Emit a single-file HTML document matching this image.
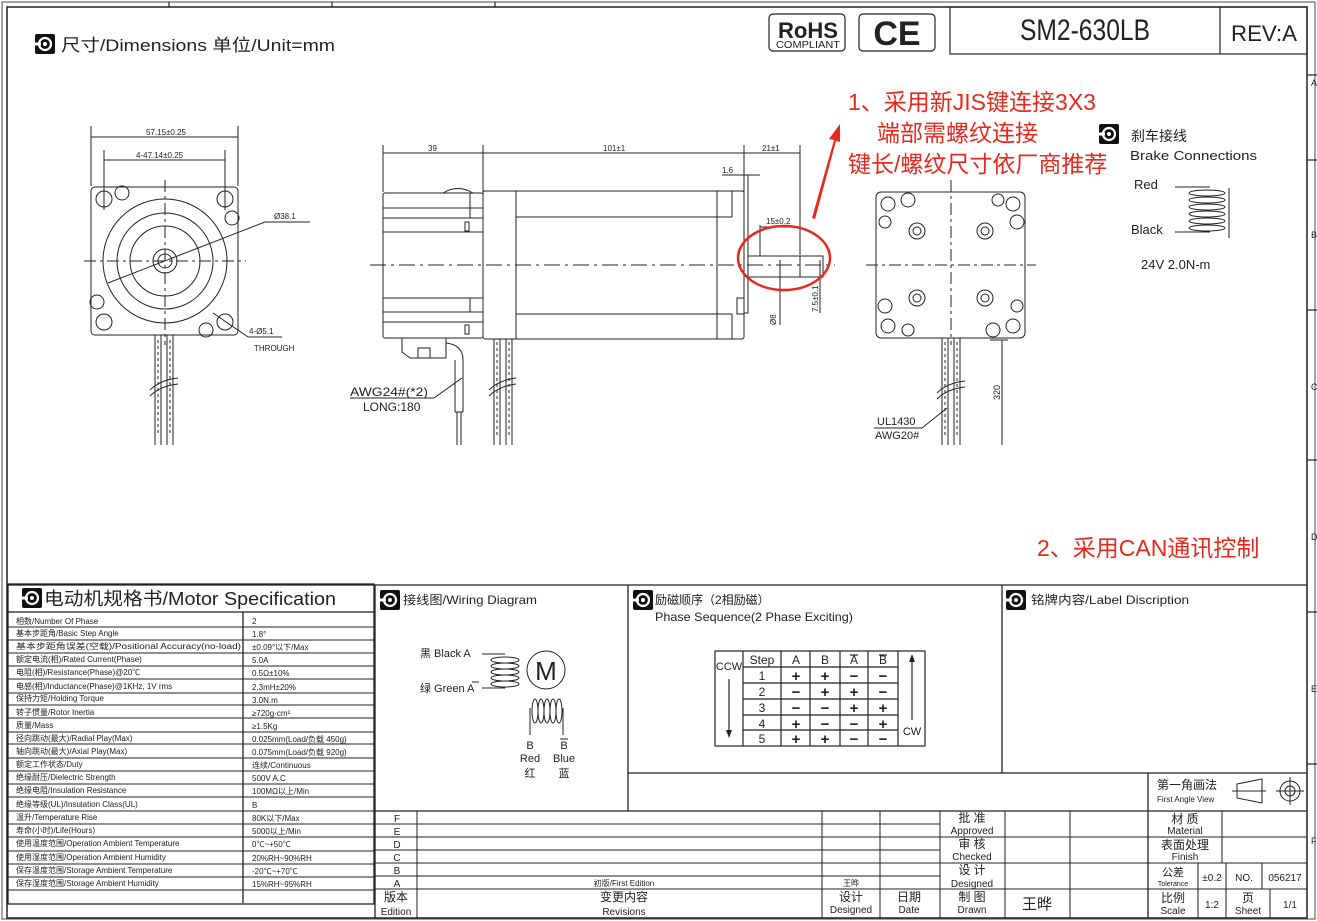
<!DOCTYPE html>
<html><head><meta charset="utf-8"><style>
html,body{margin:0;padding:0;background:#fff}
svg{display:block}
text{font-family:"Liberation Sans","Noto Sans CJK SC",sans-serif;fill:#222}
.s{font-size:8px}
</style></head><body>
<svg width="1317" height="921" viewBox="0 0 1317 921" xmlns="http://www.w3.org/2000/svg">
<g fill="none" stroke="#222" stroke-width="1.2">
<rect x="2" y="2" width="1313" height="917" stroke="#666"/>
<rect x="7" y="7" width="1300" height="911" stroke-width="1.5"/>
<line x1="169" y1="2" x2="169" y2="7"/><line x1="332" y1="2" x2="332" y2="7"/><line x1="495" y1="2" x2="495" y2="7"/>
<line x1="1307" y1="75" x2="1317" y2="75"/><line x1="1307" y1="160" x2="1317" y2="160"/><line x1="1307" y1="310" x2="1317" y2="310"/><line x1="1307" y1="460" x2="1317" y2="460"/><line x1="1307" y1="612" x2="1317" y2="612"/><line x1="1307" y1="764" x2="1317" y2="764"/>
<rect x="769" y="14" width="76" height="37" rx="4"/>
<rect x="859" y="14" width="76" height="37" rx="4"/>
<rect x="950" y="7" width="357" height="47"/>
<line x1="1220" y1="7" x2="1220" y2="54"/>
</g>
<text x="808" y="38" font-size="22" text-anchor="middle" font-weight="bold" textLength="60" lengthAdjust="spacingAndGlyphs">RoHS</text>
<text x="808" y="48" font-size="10" text-anchor="middle" textLength="64" lengthAdjust="spacingAndGlyphs">COMPLIANT</text>
<text x="897" y="45" font-size="34" text-anchor="middle" font-weight="bold">CE</text>
<text x="1020" y="40" font-size="30" textLength="130" lengthAdjust="spacingAndGlyphs" fill="#333">SM2-630LB</text>
<text x="1231" y="41" font-size="22" textLength="66" lengthAdjust="spacingAndGlyphs">REV:A</text>
<g font-size="9" fill="#444"><text x="1311" y="86">A</text><text x="1311" y="238">B</text><text x="1311" y="390">C</text><text x="1311" y="540">D</text><text x="1311" y="692">E</text><text x="1311" y="844">F</text></g>

<defs><g id="ic"><rect width="20" height="20" rx="2" fill="#111"/><circle cx="10" cy="10" r="6" fill="none" stroke="#fff" stroke-width="2.2"/><circle cx="10" cy="10" r="2" fill="#fff"/><rect x="0" y="8.5" width="6" height="3" fill="#fff"/></g></defs>
<use href="#ic" x="35" y="34"/>
<text x="61" y="51" font-size="17" textLength="274" lengthAdjust="spacingAndGlyphs">尺寸/Dimensions 单位/Unit=mm</text>

<!-- FRONT VIEW -->
<g fill="none" stroke="#222" stroke-width="1">
<line x1="91" y1="126" x2="91" y2="186"/><line x1="238" y1="126" x2="238" y2="186"/>
<line x1="91" y1="137" x2="238" y2="137"/>
<line x1="104" y1="150" x2="104" y2="210"/><line x1="225" y1="150" x2="225" y2="210"/>
<line x1="104" y1="160" x2="225" y2="160"/>
<rect x="91" y="187" width="147" height="148" rx="4"/>
<circle cx="165" cy="261" r="62"/><circle cx="165" cy="261" r="48"/><circle cx="165" cy="261" r="35"/><circle cx="165" cy="261" r="12"/><circle cx="165" cy="261" r="7"/>
<circle cx="104" cy="199" r="8"/><circle cx="225" cy="199" r="8"/><circle cx="104" cy="322" r="8"/><circle cx="225" cy="322" r="8"/>
<circle cx="122" cy="193" r="7"/><circle cx="232" cy="218" r="7"/><circle cx="97" cy="302" r="7"/><circle cx="206" cy="330" r="7"/>
<line x1="84" y1="261" x2="246" y2="261" stroke-dasharray="12 4 3 4"/>
<line x1="165" y1="180" x2="165" y2="345" stroke-dasharray="12 4 3 4"/>
<line x1="108" y1="283" x2="265" y2="222"/><line x1="265" y1="222" x2="310" y2="222"/>
<line x1="213" y1="313" x2="248" y2="337"/><line x1="248" y1="337" x2="282" y2="337"/>
<line x1="155" y1="335" x2="155" y2="445"/><line x1="161" y1="335" x2="161" y2="445"/><line x1="167" y1="335" x2="167" y2="445"/><line x1="173" y1="335" x2="173" y2="445"/>
<line x1="158" y1="340" x2="158" y2="435" stroke-dasharray="3 3"/><line x1="170" y1="340" x2="170" y2="435" stroke-dasharray="3 3"/>
<path d="M150 390 Q160 380 178 378 M150 396 Q160 386 178 384"/>
</g>
<g class="s" font-size="9"><text x="146" y="135">57.15±0.25</text><text x="136" y="158">4-47.14±0.25</text><text x="274" y="219">Ø38.1</text><text x="249" y="334">4-Ø5.1</text><text x="254" y="351">THROUGH</text></g>

<!-- SIDE VIEW -->
<g fill="none" stroke="#222" stroke-width="1">
<line x1="383" y1="145" x2="383" y2="192"/><line x1="483" y1="145" x2="483" y2="192"/><line x1="744" y1="145" x2="744" y2="175"/><line x1="800" y1="145" x2="800" y2="255"/>
<line x1="383" y1="153" x2="800" y2="153"/>
<line x1="722" y1="175" x2="760" y2="175"/>
<rect x="383" y="193" width="100" height="145" rx="2"/>
<path d="M443 193 Q458 184 473 193"/>
<line x1="383" y1="208" x2="483" y2="208"/><line x1="383" y1="218" x2="483" y2="218"/><line x1="383" y1="232" x2="483" y2="232"/>
<line x1="383" y1="298" x2="483" y2="298"/><line x1="383" y1="312" x2="483" y2="312"/><line x1="383" y1="322" x2="483" y2="322"/>
<line x1="470" y1="193" x2="470" y2="218"/><line x1="470" y1="298" x2="470" y2="312"/>
<rect x="465" y="222" width="4" height="9"/><rect x="465" y="325" width="4" height="9"/>
<rect x="483" y="191" width="261" height="148" rx="2"/>
<line x1="516" y1="191" x2="516" y2="339"/><line x1="717" y1="191" x2="717" y2="339"/><line x1="732" y1="191" x2="732" y2="217"/><line x1="732" y1="314" x2="732" y2="339"/>
<line x1="516" y1="217" x2="732" y2="217"/><line x1="516" y1="314" x2="732" y2="314"/>
<rect x="744" y="175" width="4" height="138"/>
<rect x="737" y="298" width="7" height="16"/>
<path d="M748 256 L823 256 L823 277 L748 277"/>
<line x1="760" y1="256" x2="760" y2="225"/><line x1="800" y1="256" x2="800" y2="277"/>
<line x1="760" y1="227" x2="800" y2="227"/>
<line x1="780" y1="260" x2="780" y2="325"/><line x1="820" y1="260" x2="820" y2="313"/>
<line x1="370" y1="265" x2="835" y2="265" stroke-dasharray="16 5 3 5"/>
<path d="M402 338 L402 352 L410 358 L446 358 L446 338"/><rect x="418" y="348" width="12" height="10"/>
<path d="M446 343 Q463 345 463 360 L463 412 M455 360 L455 412"/><line x1="455" y1="412" x2="463" y2="412"/>
<line x1="457" y1="412" x2="457" y2="445"/><line x1="461" y1="412" x2="461" y2="445"/>
<line x1="462" y1="378" x2="434" y2="398"/><line x1="434" y1="398" x2="350" y2="398"/>
<line x1="494" y1="339" x2="494" y2="445"/><line x1="500" y1="339" x2="500" y2="445"/><line x1="506" y1="339" x2="506" y2="445"/><line x1="512" y1="339" x2="512" y2="445"/>
<line x1="497" y1="342" x2="497" y2="435" stroke-dasharray="3 3"/><line x1="509" y1="342" x2="509" y2="435" stroke-dasharray="3 3"/>
<path d="M489 390 Q499 380 516 378 M489 396 Q499 386 516 384"/>
</g>
<g class="s" font-size="9"><text x="428" y="151">39</text><text x="603" y="151">101±1</text><text x="762" y="151">21±1</text><text x="722" y="173">1.6</text><text x="766" y="224">15±0.2</text>
<text x="776" y="325" transform="rotate(-90 776 325)">Ø8</text><text x="818" y="312" transform="rotate(-90 818 312)">7.5±0.1</text></g>
<text x="350" y="396" font-size="12" textLength="78" lengthAdjust="spacingAndGlyphs">AWG24#(*2)</text><text x="363" y="411" font-size="12">LONG:180</text>
<ellipse cx="784" cy="258" rx="46" ry="32" fill="none" stroke="#e8281d" stroke-width="2.5"/>
<path d="M812 218 L834 140 L829 139 L840 124 L840 142 L836 141 L815 219 Z" fill="#e8281d"/>

<!-- REAR VIEW -->
<g fill="none" stroke="#222" stroke-width="1">
<rect x="876" y="192" width="149" height="146" rx="5"/>
<line x1="866" y1="265" x2="1036" y2="265" stroke-dasharray="12 4 3 4"/>
<line x1="951" y1="180" x2="951" y2="345" stroke-dasharray="12 4 3 4"/>
<circle cx="917" cy="231" r="8"/><circle cx="985" cy="231" r="8"/><circle cx="917" cy="298" r="8"/><circle cx="985" cy="298" r="8"/>
<circle cx="917" cy="231" r="4"/><circle cx="985" cy="231" r="4"/><circle cx="917" cy="298" r="4"/><circle cx="985" cy="298" r="4"/>
<circle cx="888" cy="204" r="7"/><circle cx="1013" cy="204" r="7"/><circle cx="888" cy="326" r="7"/><circle cx="1013" cy="326" r="7"/>
<circle cx="908" cy="200" r="7"/><circle cx="1017" cy="222" r="7"/><circle cx="885" cy="306" r="7"/><circle cx="993" cy="330" r="7"/><circle cx="885" cy="222" r="6"/><circle cx="998" cy="200" r="6"/><circle cx="1017" cy="306" r="6"/><circle cx="908" cy="330" r="6"/>
<line x1="942" y1="338" x2="942" y2="445"/><line x1="948" y1="338" x2="948" y2="445"/><line x1="954" y1="338" x2="954" y2="445"/><line x1="960" y1="338" x2="960" y2="445"/>
<line x1="945" y1="342" x2="945" y2="435" stroke-dasharray="3 3"/><line x1="957" y1="342" x2="957" y2="435" stroke-dasharray="3 3"/>
<path d="M937 393 Q947 383 965 381 M937 399 Q947 389 965 387"/>
<line x1="1002" y1="340" x2="1002" y2="445"/><line x1="990" y1="340" x2="1008" y2="340"/>
<line x1="947" y1="408" x2="922" y2="428"/><line x1="922" y1="428" x2="874" y2="428"/>
</g>
<text x="1000" y="400" font-size="9" transform="rotate(-90 1000 400)">320</text>
<text x="877" y="425" font-size="11">UL1430</text><text x="875" y="439" font-size="11">AWG20#</text>

<g font-size="23">
<text x="848" y="110" style="fill:#e8281d">1、采用新JIS键连接3X3</text>
<text x="877" y="141" style="fill:#e8281d">端部需螺纹连接</text>
<text x="848" y="172" style="fill:#e8281d">键长/螺纹尺寸依厂商推荐</text>
<text x="1037" y="556" style="fill:#e8281d">2、采用CAN通讯控制</text>
</g>

<use href="#ic" x="1099" y="124"/>
<text x="1131" y="141" font-size="14" fill="#555">刹车接线</text>
<text x="1130" y="160" font-size="13" textLength="127" lengthAdjust="spacingAndGlyphs">Brake Connections</text>
<text x="1134" y="189" font-size="13">Red</text><text x="1131" y="234" font-size="13">Black</text>
<g fill="none" stroke="#222" stroke-width="1"><line x1="1175" y1="187" x2="1210" y2="187"/><line x1="1175" y1="232" x2="1210" y2="232"/><line x1="1229" y1="188" x2="1229" y2="238"/>
<ellipse cx="1207" cy="193" rx="18" ry="3"/><ellipse cx="1207" cy="200" rx="18" ry="3"/><ellipse cx="1207" cy="207" rx="18" ry="3"/><ellipse cx="1207" cy="214" rx="18" ry="3"/><ellipse cx="1207" cy="221" rx="18" ry="3"/><ellipse cx="1207" cy="228" rx="18" ry="3"/></g>
<text x="1141" y="269" font-size="13">24V   2.0N-m</text>

<!-- BOTTOM SECTION -->
<g fill="none" stroke="#222" stroke-width="1.3">
<line x1="7" y1="585" x2="1307" y2="585"/>
<line x1="375" y1="585" x2="375" y2="918"/>
<line x1="628" y1="585" x2="628" y2="811"/>
<line x1="1002" y1="585" x2="1002" y2="773"/>
<line x1="628" y1="773" x2="1307" y2="773"/>
<line x1="1148" y1="773" x2="1148" y2="918"/>
<line x1="375" y1="811" x2="1307" y2="811"/>
<rect x="8" y="584" width="366" height="320"/>
<line x1="8" y1="612" x2="374" y2="612"/>
<line x1="243" y1="612" x2="243" y2="903"/>
</g>
<g stroke="#222" stroke-width="0.9">
<line x1="8" y1="627" x2="374" y2="627"/><line x1="8" y1="640" x2="374" y2="640"/><line x1="8" y1="653" x2="374" y2="653"/><line x1="8" y1="666" x2="374" y2="666"/><line x1="8" y1="679" x2="374" y2="679"/><line x1="8" y1="693" x2="374" y2="693"/><line x1="8" y1="705" x2="374" y2="705"/><line x1="8" y1="718" x2="374" y2="718"/><line x1="8" y1="732" x2="374" y2="732"/><line x1="8" y1="744" x2="374" y2="744"/><line x1="8" y1="758" x2="374" y2="758"/><line x1="8" y1="771" x2="374" y2="771"/><line x1="8" y1="784" x2="374" y2="784"/><line x1="8" y1="797" x2="374" y2="797"/><line x1="8" y1="811" x2="374" y2="811"/><line x1="8" y1="824" x2="374" y2="824"/><line x1="8" y1="837" x2="374" y2="837"/><line x1="8" y1="851" x2="374" y2="851"/><line x1="8" y1="864" x2="374" y2="864"/><line x1="8" y1="877" x2="374" y2="877"/><line x1="8" y1="890" x2="374" y2="890"/>
</g>
<use href="#ic" x="22" y="588"/>
<text x="44" y="605" font-size="18" textLength="292" lengthAdjust="spacingAndGlyphs">电动机规格书/Motor Specification</text>
<g class="s">
<text x="16" y="624">相数/Number Of Phase</text><text x="252" y="624">2</text>
<text x="16" y="636">基本步距角/Basic Step Angle</text><text x="252" y="637">1.8°</text>
<text x="16" y="649" textLength="225" lengthAdjust="spacingAndGlyphs">基本步距角误差(空载)/Positional Accuracy(no-load)</text><text x="252" y="650">±0.09°以下/Max</text>
<text x="16" y="662">额定电流(相)/Rated Current(Phase)</text><text x="252" y="663">5.0A</text>
<text x="16" y="675">电阻(相)/Resistance(Phase)@20℃</text><text x="252" y="676">0.5Ω±10%</text>
<text x="16" y="689">电感(相)/Inductance(Phase)@1KHz, 1V rms</text><text x="252" y="690">2.3mH±20%</text>
<text x="16" y="701">保持力矩/Holding Torque</text><text x="252" y="703">3.0N.m</text>
<text x="16" y="715">转子惯量/Rotor Inertia</text><text x="252" y="716">≥720g·cm²</text>
<text x="16" y="728">质量/Mass</text><text x="252" y="729">≥1.5Kg</text>
<text x="16" y="741">径向跳动(最大)/Radial Play(Max)</text><text x="252" y="742">0.025mm(Load/负载 450g)</text>
<text x="16" y="754">轴向跳动(最大)/Axial Play(Max)</text><text x="252" y="755">0.075mm(Load/负载 920g)</text>
<text x="16" y="767">额定工作状态/Duty</text><text x="252" y="768">连续/Continuous</text>
<text x="16" y="780">绝缘耐压/Dielectric Strength</text><text x="252" y="781">500V A.C</text>
<text x="16" y="793">绝缘电阻/Insulation Resistance</text><text x="252" y="794">100MΩ以上/Min</text>
<text x="16" y="807">绝缘等级(UL)/Insulation Class(UL)</text><text x="252" y="808">B</text>
<text x="16" y="820">温升/Temperature Rise</text><text x="252" y="821">80K以下/Max</text>
<text x="16" y="833">寿命(小时)/Life(Hours)</text><text x="252" y="834">5000以上/Min</text>
<text x="16" y="846">使用温度范围/Operation Ambient Temperature</text><text x="252" y="847">0℃~+50℃</text>
<text x="16" y="860">使用湿度范围/Operation Ambient Humidity</text><text x="252" y="861">20%RH~90%RH</text>
<text x="16" y="873">保存温度范围/Storage Ambient Temperature</text><text x="252" y="874">-20℃~+70℃</text>
<text x="16" y="886">保存湿度范围/Storage Ambient Humidity</text><text x="252" y="887">15%RH~95%RH</text>
</g>

<use href="#ic" x="380" y="590"/>
<text x="403" y="604" font-size="12" textLength="134" lengthAdjust="spacingAndGlyphs">接线图/Wiring Diagram</text>
<text x="420" y="657" font-size="11">黑 Black A</text>
<text x="420" y="692" font-size="11">绿 Green A</text><line x1="472" y1="682" x2="479" y2="682" stroke="#222"/>
<g fill="none" stroke="#222" stroke-width="1">
<line x1="482" y1="654" x2="505" y2="654"/><line x1="482" y1="688" x2="505" y2="688"/>
<ellipse cx="505" cy="660" rx="14" ry="3"/><ellipse cx="505" cy="666" rx="14" ry="3"/><ellipse cx="505" cy="672" rx="14" ry="3"/><ellipse cx="505" cy="678" rx="14" ry="3"/><ellipse cx="505" cy="684" rx="14" ry="3"/>
<circle cx="546" cy="670" r="19"/>
<ellipse cx="535" cy="711" rx="3" ry="12"/><ellipse cx="541" cy="711" rx="3" ry="12"/><ellipse cx="547" cy="711" rx="3" ry="12"/><ellipse cx="553" cy="711" rx="3" ry="12"/><ellipse cx="559" cy="711" rx="3" ry="12"/>
<line x1="530" y1="708" x2="530" y2="735"/><line x1="563" y1="708" x2="563" y2="735"/>
</g>
<text x="546" y="680" font-size="26" text-anchor="middle" fill="#333">M</text>
<g font-size="11" text-anchor="middle"><text x="530" y="749">B</text><text x="564" y="749">B</text><text x="530" y="762">Red</text><text x="564" y="762">Blue</text><text x="530" y="777">红</text><text x="564" y="777">蓝</text></g>
<line x1="560" y1="739" x2="568" y2="739" stroke="#222"/>

<use href="#ic" x="633" y="590"/>
<text x="655" y="604" font-size="12">励磁顺序（2相励磁）</text>
<text x="655" y="621" font-size="12" textLength="198" lengthAdjust="spacingAndGlyphs">Phase Sequence(2 Phase Exciting)</text>
<g fill="none" stroke="#222" stroke-width="1.2">
<rect x="715" y="651" width="210" height="95"/>
<line x1="743" y1="651" x2="743" y2="746"/><line x1="781" y1="651" x2="781" y2="746"/><line x1="810" y1="651" x2="810" y2="746"/><line x1="840" y1="651" x2="840" y2="746"/><line x1="868" y1="651" x2="868" y2="746"/><line x1="898" y1="651" x2="898" y2="746"/>
<line x1="743" y1="667" x2="898" y2="667"/><line x1="743" y1="683" x2="898" y2="683"/><line x1="743" y1="699" x2="898" y2="699"/><line x1="743" y1="715" x2="898" y2="715"/><line x1="743" y1="730" x2="898" y2="730"/>
<line x1="729" y1="679" x2="729" y2="732"/><line x1="912" y1="660" x2="912" y2="720"/>
<line x1="850" y1="655" x2="858" y2="655"/><line x1="879" y1="655" x2="887" y2="655"/>
</g>
<path d="M726 730 L729 738 L732 730Z M909 662 L912 654 L915 662Z" fill="#222"/>
<g font-size="12" text-anchor="middle">
<text x="729" y="670" font-size="11">CCW</text><text x="912" y="735" font-size="11">CW</text>
<text x="762" y="664">Step</text><text x="796" y="664">A</text><text x="825" y="664">B</text><text x="854" y="664">A</text><text x="883" y="664">B</text>
<text x="762" y="680">1</text><text x="762" y="696">2</text><text x="762" y="712">3</text><text x="762" y="728">4</text><text x="762" y="743">5</text>
</g>
<g font-size="15" font-weight="bold" text-anchor="middle">
<text x="796" y="681">+</text><text x="825" y="681">+</text><text x="854" y="681">−</text><text x="883" y="681">−</text>
<text x="796" y="697">−</text><text x="825" y="697">+</text><text x="854" y="697">+</text><text x="883" y="697">−</text>
<text x="796" y="713">−</text><text x="825" y="713">−</text><text x="854" y="713">+</text><text x="883" y="713">+</text>
<text x="796" y="729">+</text><text x="825" y="729">−</text><text x="854" y="729">−</text><text x="883" y="729">+</text>
<text x="796" y="744">+</text><text x="825" y="744">+</text><text x="854" y="744">−</text><text x="883" y="744">−</text>
</g>

<use href="#ic" x="1006" y="590"/>
<text x="1031" y="604" font-size="12" textLength="158" lengthAdjust="spacingAndGlyphs">铭牌内容/Label Discription</text>
<text x="1157" y="789" font-size="12">第一角画法</text><text x="1157" y="802" font-size="8">First Angle View</text>
<g fill="none" stroke="#222" stroke-width="1"><path d="M1237 784 L1262 779 L1262 803 L1237 798Z"/><line x1="1232" y1="791" x2="1266" y2="791"/>
<circle cx="1290" cy="791" r="10"/><circle cx="1290" cy="791" r="5"/><line x1="1276" y1="791" x2="1304" y2="791"/><line x1="1290" y1="777" x2="1290" y2="805"/></g>

<g stroke="#222" stroke-width="1" fill="none">
<line x1="375" y1="824" x2="940" y2="824"/><line x1="375" y1="837" x2="1148" y2="837"/><line x1="375" y1="850" x2="940" y2="850"/><line x1="375" y1="863" x2="1148" y2="863"/><line x1="375" y1="876" x2="940" y2="876"/><line x1="375" y1="889" x2="1307" y2="889"/>
<line x1="1148" y1="837" x2="1307" y2="837"/><line x1="1148" y1="863" x2="1307" y2="863"/>
<line x1="417" y1="811" x2="417" y2="918"/><line x1="822" y1="811" x2="822" y2="918"/><line x1="880" y1="811" x2="880" y2="918"/><line x1="940" y1="811" x2="940" y2="918"/><line x1="1005" y1="811" x2="1005" y2="918"/><line x1="1070" y1="811" x2="1070" y2="918"/>
<line x1="1222" y1="811" x2="1222" y2="863"/><line x1="1198" y1="863" x2="1198" y2="918"/><line x1="1226" y1="863" x2="1226" y2="918"/><line x1="1262" y1="863" x2="1262" y2="889"/><line x1="1270" y1="889" x2="1270" y2="918"/>
</g>
<g font-size="10" text-anchor="middle">
<text x="397" y="822">F</text><text x="397" y="835">E</text><text x="397" y="848">D</text><text x="397" y="861">C</text><text x="397" y="874">B</text><text x="397" y="887">A</text>
<text x="624" y="886" font-size="8">初版/First Edition</text><text x="851" y="886" font-size="8">王晔</text>
<text x="396" y="901" font-size="12">版本</text><text x="396" y="915">Edition</text>
<text x="624" y="901" font-size="12">变更内容</text><text x="624" y="915">Revisions</text>
<text x="851" y="901" font-size="12">设计</text><text x="851" y="913">Designed</text>
<text x="909" y="901" font-size="12">日期</text><text x="909" y="913">Date</text>
<text x="972" y="822" font-size="12">批 准</text><text x="972" y="834">Approved</text>
<text x="972" y="848" font-size="12">审 核</text><text x="972" y="860">Checked</text>
<text x="972" y="874" font-size="12">设 计</text><text x="972" y="887">Designed</text>
<text x="972" y="901" font-size="12">制 图</text><text x="972" y="913">Drawn</text>
<text x="1037" y="909" font-size="15">王晔</text>
<text x="1185" y="823" font-size="12">材  质</text><text x="1185" y="834">Material</text>
<text x="1185" y="849" font-size="12">表面处理</text><text x="1185" y="860">Finish</text>
<text x="1173" y="876" font-size="11">公差</text><text x="1173" y="886" font-size="7">Tolerance</text><text x="1212" y="881">±0.2</text>
<text x="1244" y="881">NO.</text><text x="1285" y="881">056217</text>
<text x="1173" y="902" font-size="12">比例</text><text x="1173" y="914">Scale</text><text x="1212" y="908">1:2</text>
<text x="1248" y="902" font-size="12">页</text><text x="1248" y="914">Sheet</text><text x="1290" y="908">1/1</text>
</g>
</svg>
</body></html>
